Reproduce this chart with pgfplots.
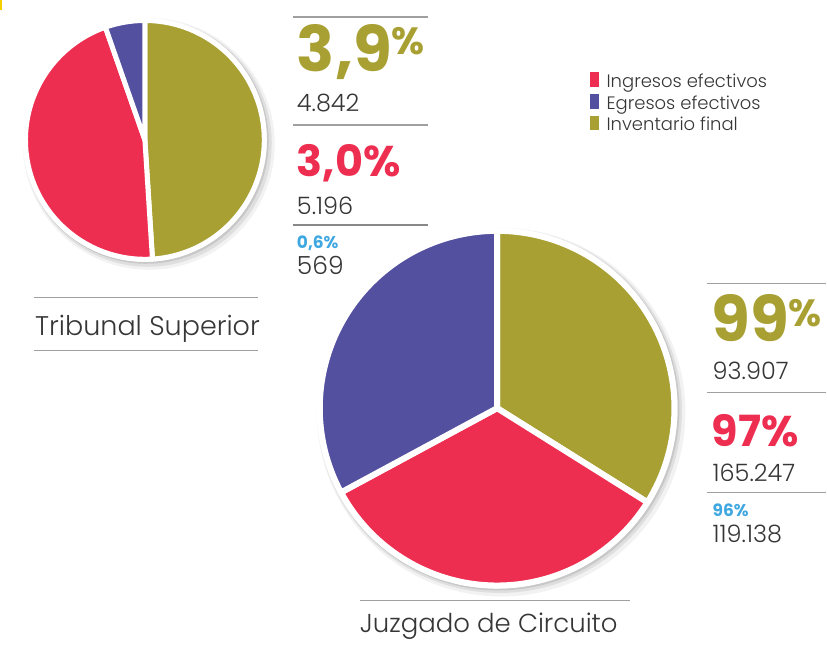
\documentclass[border=0pt]{standalone}
\usepackage{fontspec}
\setmainfont{Poppins}
\newfontfamily\lightfont{Poppins Light}
\usepackage{pgfplots}
\usepackage{pgfplotstable}
\pgfplotsset{compat=1.18}
\definecolor{cOlive}{HTML}{A8A032}
\definecolor{cRed}{HTML}{EE2E50}
\definecolor{cPurple}{HTML}{5450A0}
\definecolor{cBlue}{HTML}{40A8E0}
\definecolor{cText}{HTML}{363636}
\definecolor{cLine}{HTML}{A0A0A0}
\definecolor{cYellow}{HTML}{F5D000}

% slice sizes (clockwise from the top): Inventario, Ingresos, Egresos
\pgfplotstableread{
serie tribunal juzgado
Inventario 5196 99
Ingresos 4842 97
Egresos 569 96
}\pietable

\pgfplotstablegetelem{0}{tribunal}\of\pietable\edef\TSa{\pgfplotsretval}
\pgfplotstablegetelem{1}{tribunal}\of\pietable\edef\TSb{\pgfplotsretval}
\pgfplotstablegetelem{2}{tribunal}\of\pietable\edef\TSc{\pgfplotsretval}
\pgfplotstablegetelem{0}{juzgado}\of\pietable\edef\JCa{\pgfplotsretval}
\pgfplotstablegetelem{1}{juzgado}\of\pietable\edef\JCb{\pgfplotsretval}
\pgfplotstablegetelem{2}{juzgado}\of\pietable\edef\JCc{\pgfplotsretval}

\pgfmathsetmacro{\TSs}{\TSa+\TSb+\TSc}
\pgfmathsetmacro{\TSone}{90-360*(\TSa/\TSs)}
\pgfmathsetmacro{\TStwo}{\TSone-360*(\TSb/\TSs)}
\pgfmathsetmacro{\JCs}{\JCa+\JCb+\JCc}
\pgfmathsetmacro{\JCone}{90-360*(\JCa/\JCs)}
\pgfmathsetmacro{\JCtwo}{\JCone-360*(\JCb/\JCs)}

\newcommand\fsz[1]{\fontsize{#1}{#1}\selectfont}
% slice: cx, cy, r, angle from, angle to, colour, gap
\newcommand\pieslice[7]{%
  \addplot[fill=#6, draw=white, line width=#7, line join=round, domain=#4:#5,
    samples=90, variable=\t, forget plot]
    ({#1+#3*cos(\t)},{#2-#3*sin(\t)}) -- (axis cs:#1,#2) -- cycle;}
% disc: cx, cy, r, options
\newcommand\disc[4]{%
  \addplot[#4, draw=none, domain=0:360, samples=120, variable=\t, forget plot]
    ({#1+#3*cos(\t)},{#2-#3*sin(\t)}) -- cycle;}

\begin{document}
\begin{tikzpicture}
\begin{axis}[
  scale only axis, width=827pt, height=650pt,
  xmin=0, xmax=827, ymin=0, ymax=650, y dir=reverse,
  hide axis, clip=false,
  legend style={at={(axis cs:587,70)}, anchor=north west, draw=none, fill=none,
    font=\lightfont\fsz{18}, text=cText,
    nodes={inner sep=0pt, text height=13pt, text depth=5pt},
    row sep=1.5pt},
  legend cell align=left,
  legend image code/.code={\fill[#1] (0pt,-3pt) rectangle (8pt,11pt);\path (16.5pt,0pt);},
]
\path (axis cs:0,0) rectangle (axis cs:827,650);
\fill[cYellow] (axis cs:0,0) rectangle (axis cs:1.6,10);

% ---- Tribunal Superior pie
\disc{149}{144}{126}{fill=black, fill opacity=0.05}
\disc{148}{143}{124}{fill=black, fill opacity=0.08}
\disc{146.5}{141.5}{122.5}{fill=black, fill opacity=0.10}
\disc{145}{140}{122}{fill=white}
\pieslice{145}{140}{119.5}{\TSone}{90}{cOlive}{5pt}
\pieslice{145}{140}{119.5}{\TStwo}{\TSone}{cRed}{5pt}
\pieslice{145}{140}{119.5}{-270}{\TStwo}{cPurple}{5pt}

% ---- Juzgado de Circuito pie
\disc{501.5}{412.5}{184.5}{fill=black, fill opacity=0.05}
\disc{500}{411}{182.5}{fill=black, fill opacity=0.08}
\disc{499}{410}{181}{fill=black, fill opacity=0.10}
\disc{497.5}{408.5}{180.5}{fill=white}
\pieslice{497.5}{408.5}{177.5}{\JCone}{90}{cOlive}{6pt}
\pieslice{497.5}{408.5}{177.5}{\JCtwo}{\JCone}{cRed}{6pt}
\pieslice{497.5}{408.5}{177.5}{-270}{\JCtwo}{cPurple}{6pt}

% ---- legend
\addlegendimage{cRed}\addlegendentry{Ingresos efectivos}
\addlegendimage{cPurple}\addlegendentry{Egresos efectivos}
\addlegendimage{cOlive}\addlegendentry{Inventario final}

% ---- Tribunal Superior labels
\draw[cLine, line width=1.3pt] (axis cs:293,17) -- (axis cs:428,17);
\node[anchor=base west, inner sep=0pt, text=cOlive, font=\fsz{63}\bfseries] at (axis cs:297,72) {3,9};
\node[anchor=base west, inner sep=0pt, text=cOlive, font=\fsz{38}\bfseries] at (axis cs:392,55) {\%};
\node[anchor=base west, inner sep=0pt, text=cText, font=\lightfont\fsz{24}] at (axis cs:297,112) {4.842};
\draw[cLine, line width=1.3pt] (axis cs:293,125) -- (axis cs:428,125);
\node[anchor=base west, inner sep=0pt, text=cRed, font=\fsz{43}\bfseries] at (axis cs:297,177) {3,0\%};
\node[anchor=base west, inner sep=0pt, text=cText, font=\lightfont\fsz{24}] at (axis cs:297,215) {5.196};
\draw[cLine!85!black, line width=2.5pt] (axis cs:293,225) -- (axis cs:428,225);
\node[anchor=base west, inner sep=0pt, text=cBlue, font=\fsz{17}\bfseries] at (axis cs:297,249) {0,6\%};
\node[anchor=base west, inner sep=0pt, text=cText, font=\lightfont\fsz{25}] at (axis cs:297,275) {569};

\draw[cLine, line width=1.3pt] (axis cs:34,298) -- (axis cs:258,298);
\node[anchor=base west, inner sep=0pt, text=cText, font=\lightfont\fsz{27}] at (axis cs:35,336) {Tribunal Superior};
\draw[cLine, line width=1.3pt] (axis cs:34,351) -- (axis cs:258,351);

% ---- Juzgado de Circuito labels
\draw[cLine, line width=1.3pt] (axis cs:708,284) -- (axis cs:827,284);
\node[anchor=base west, inner sep=0pt, text=cOlive, font=\fsz{63}\bfseries] at (axis cs:712,342) {99};
\node[anchor=base west, inner sep=0pt, text=cOlive, font=\fsz{38}\bfseries] at (axis cs:789,327) {\%};
\node[anchor=base west, inner sep=0pt, text=cText, font=\lightfont\fsz{24}] at (axis cs:713,380) {93.907};
\draw[cLine, line width=1.3pt] (axis cs:708,393) -- (axis cs:827,393);
\node[anchor=base west, inner sep=0pt, text=cRed, font=\fsz{43}\bfseries] at (axis cs:712,447) {97\%};
\node[anchor=base west, inner sep=0pt, text=cText, font=\lightfont\fsz{24}] at (axis cs:713,482) {165.247};
\draw[cLine, line width=1.3pt] (axis cs:708,493) -- (axis cs:827,493);
\node[anchor=base west, inner sep=0pt, text=cBlue, font=\fsz{17}\bfseries] at (axis cs:713,517) {96\%};
\node[anchor=base west, inner sep=0pt, text=cText, font=\lightfont\fsz{24}] at (axis cs:713,543) {119.138};

\draw[cLine, line width=1.3pt] (axis cs:360,601) -- (axis cs:630,601);
\node[anchor=base west, inner sep=0pt, text=cText, font=\lightfont\fsz{26}] at (axis cs:360,633) {Juzgado de Circuito};
\end{axis}
\end{tikzpicture}
\end{document}
